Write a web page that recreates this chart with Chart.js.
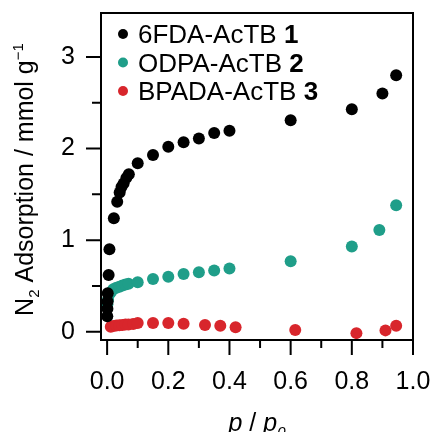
<!DOCTYPE html>
<html>
<head>
<meta charset="utf-8">
<script src="https://cdn.jsdelivr.net/npm/chart.js@4.4.0/dist/chart.umd.min.js"></script>
<style>
  html, body { margin: 0; padding: 0; background: #fff; }
  #wrap { width: 434px; height: 432px; }
</style>
</head>
<body>
<div id="wrap"><canvas id="chart" width="434" height="432"></canvas></div>
<script>
const seriesNames = ['6FDA-AcTB', 'ODPA-AcTB', 'BPADA-AcTB'];
const seriesNumbers = ['1', '2', '3'];
const seriesColors = ['#000000', '#1f9e89', '#d8262c'];

// 6FDA-AcTB 1
const p6fda = [0.0005, 0.001, 0.0015, 0.002, 0.005, 0.0076, 0.022, 0.033, 0.041, 0.047, 0.054, 0.063, 0.071,
  0.10, 0.15, 0.20, 0.25, 0.30, 0.35, 0.40, 0.60, 0.80, 0.90, 0.945];
const n6fda = [0.17, 0.25, 0.33, 0.42, 0.62, 0.90, 1.24, 1.42, 1.52, 1.58, 1.62, 1.68, 1.72,
  1.84, 1.93, 2.02, 2.07, 2.11, 2.17, 2.195, 2.31, 2.43, 2.60, 2.80];

// ODPA-AcTB 2
const podpa = [0.001, 0.003, 0.006, 0.012, 0.020, 0.030, 0.040, 0.050, 0.060, 0.070,
  0.10, 0.15, 0.20, 0.25, 0.30, 0.35, 0.40, 0.60, 0.80, 0.89, 0.945];
const nodpa = [0.30, 0.35, 0.40, 0.43, 0.465, 0.48, 0.49, 0.505, 0.515, 0.525,
  0.54, 0.575, 0.60, 0.63, 0.65, 0.67, 0.69, 0.77, 0.93, 1.11, 1.38];

// BPADA-AcTB 3
const pbpada = [0.012, 0.02, 0.03, 0.04, 0.05, 0.06, 0.07, 0.085, 0.10, 0.15, 0.20, 0.25,
  0.32, 0.37, 0.42, 0.615, 0.815, 0.91, 0.945];
const nbpada = [0.055, 0.062, 0.068, 0.072, 0.075, 0.078, 0.08, 0.085, 0.095, 0.095, 0.095, 0.087,
  0.073, 0.065, 0.05, 0.02, -0.015, 0.015, 0.065];

const xTicks = [0, 0.2, 0.4, 0.6, 0.8, 1.0];
const xMinorTicks = [0.1, 0.3, 0.5, 0.7, 0.9];
const yTicks = [0, 1, 2, 3];
const yMinorTicks = [0.5, 1.5, 2.5];

const FONT = "'Liberation Sans', Arial, Helvetica, sans-serif";

const toPoints = (xs, ys) => xs.map((x, i) => ({ x: x, y: ys[i] }));

// frame, ticks, legend and axis titles
const decorPlugin = {
  id: 'decor',
  afterDraw(chart) {
    const ctx = chart.ctx;
    const area = chart.chartArea;
    const sx = chart.scales.x, sy = chart.scales.y;
    ctx.save();
    ctx.strokeStyle = '#000';
    ctx.lineWidth = 2;
    ctx.strokeRect(area.left, area.top, area.right - area.left, area.bottom - area.top);

    ctx.beginPath();
    xTicks.forEach(v => { const px = sx.getPixelForValue(v); ctx.moveTo(px, area.bottom); ctx.lineTo(px, area.bottom + 15); });
    xMinorTicks.forEach(v => { const px = sx.getPixelForValue(v); ctx.moveTo(px, area.bottom); ctx.lineTo(px, area.bottom + 8); });
    yTicks.forEach(v => { const py = sy.getPixelForValue(v); ctx.moveTo(area.left, py); ctx.lineTo(area.left - 15, py); });
    yMinorTicks.forEach(v => { const py = sy.getPixelForValue(v); ctx.moveTo(area.left, py); ctx.lineTo(area.left - 9, py); });
    ctx.stroke();

    // legend
    ctx.textBaseline = 'alphabetic';
    ctx.textAlign = 'left';
    seriesNames.forEach((name, i) => {
      const base = 43 + i * 28.5;
      ctx.fillStyle = seriesColors[i];
      ctx.beginPath();
      ctx.arc(123, base - 9, 5, 0, Math.PI * 2);
      ctx.fill();
      ctx.fillStyle = '#000';
      ctx.font = '26px ' + FONT;
      const txt = name + ' ';
      ctx.fillText(txt, 138, base);
      const w = ctx.measureText(txt).width;
      ctx.font = 'bold 26px ' + FONT;
      ctx.fillText(seriesNumbers[i], 138 + w, base);
    });

    // y title
    const cy = (area.top + area.bottom) / 2 + 3;
    ctx.save();
    ctx.translate(33, cy);
    ctx.rotate(-Math.PI / 2);
    const parts = [
      { t: 'N', f: '25px ', dy: 0 },
      { t: '2', f: '15px ', dy: 6 },
      { t: ' Adsorption / mmol g', f: '25px ', dy: 0 },
      { t: '\u22121', f: '15px ', dy: -10 }
    ];
    let total = 0;
    parts.forEach(p => { ctx.font = p.f + FONT; p.w = ctx.measureText(p.t).width; total += p.w; });
    let x0 = -total / 2;
    parts.forEach(p => { ctx.font = p.f + FONT; ctx.fillText(p.t, x0, p.dy); x0 += p.w; });
    ctx.restore();

    // x title
    const xparts = [
      { t: 'p', f: 'italic 25px ', dy: 0 },
      { t: ' / ', f: '25px ', dy: 0 },
      { t: 'p', f: 'italic 25px ', dy: 0 },
      { t: '0', f: 'italic 15px ', dy: 6 }
    ];
    let xt = 0;
    xparts.forEach(p => { ctx.font = p.f + FONT; p.w = ctx.measureText(p.t).width; xt += p.w; });
    let xx = (area.left + area.right) / 2 - xt / 2;
    xparts.forEach(p => { ctx.font = p.f + FONT; ctx.fillText(p.t, xx, 431 + p.dy); xx += p.w; });
    ctx.restore();
  }
};

const datasets = [
  toPoints(p6fda, n6fda),
  toPoints(podpa, nodpa),
  toPoints(pbpada, nbpada)
].map((pts, i) => ({
  label: seriesNames[i] + ' ' + seriesNumbers[i],
  data: pts,
  backgroundColor: seriesColors[i],
  borderColor: seriesColors[i],
  borderWidth: 0,
  pointRadius: 6,
  pointHoverRadius: 6
}));

new Chart(document.getElementById('chart').getContext('2d'), {
  type: 'scatter',
  data: { datasets: datasets },
  options: {
    responsive: false,
    animation: false,
    layout: { padding: { top: 13, right: 21, left: 0, bottom: 0 } },
    plugins: { legend: { display: false }, tooltip: { enabled: false } },
    scales: {
      x: {
        type: 'linear',
        min: -0.02,
        max: 1.0,
        grid: { display: false, drawTicks: false },
        border: { display: false },
        afterBuildTicks: scale => { scale.ticks = xTicks.map(v => ({ value: v })); },
        afterFit: scale => {
          scale.height = 92;
          scale.paddingLeft = 0; scale.paddingRight = 0;
          scale.paddingTop = 0; scale.paddingBottom = 0;
        },
        ticks: {
          padding: 27,
          color: '#000',
          font: { family: FONT, size: 25 },
          callback: v => v.toFixed(1)
        }
      },
      y: {
        type: 'linear',
        min: -0.09,
        max: 3.48,
        grid: { display: false, drawTicks: false },
        border: { display: false },
        afterBuildTicks: scale => { scale.ticks = yTicks.map(v => ({ value: v })); },
        afterFit: scale => {
          scale.width = 101;
          scale.paddingLeft = 0; scale.paddingRight = 0;
          scale.paddingTop = 0; scale.paddingBottom = 0;
        },
        ticks: {
          padding: 26,
          color: '#000',
          font: { family: FONT, size: 25 },
          callback: v => String(v)
        }
      }
    }
  },
  plugins: [decorPlugin]
});
</script>
</body>
</html>
